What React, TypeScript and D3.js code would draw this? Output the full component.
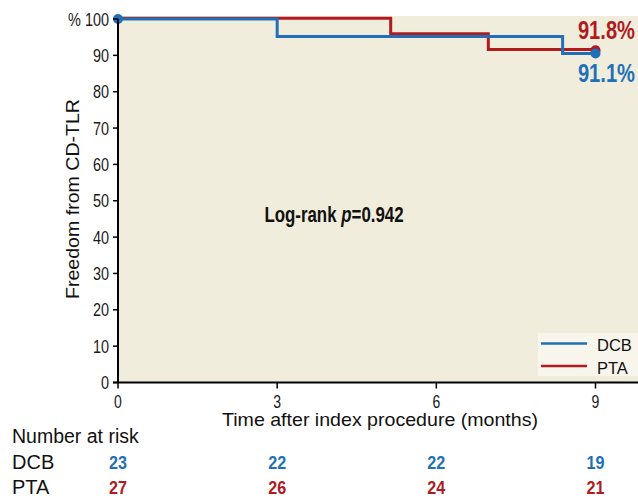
import React from "react";
import * as d3 from "d3";

const months = [0, 3, 6, 9];
const yTicks = [0, 10, 20, 30, 40, 50, 60, 70, 80, 90, 100];
const dcbTimes = [0, 3, 8.38, 9];
const dcbSurv = [100, 95.2, 90.5, 90.5];
const ptaTimes = [0, 5.14, 6.98, 9];
const ptaSurv = [100, 95.7, 91.4, 91.4];
const riskDCB = [23, 22, 22, 19];
const riskPTA = [27, 26, 24, 21];
const finalLabels = ["91.8%", "91.1%"];

const W = 638, H = 498;
const BLUE = "#1f70b8";
const RED = "#b01b1f";
const BG = "#f1eddc";
const SANS = "'Liberation Sans', Arial, sans-serif";

// condensed-looking text: Liberation Sans squeezed horizontally
function NT(props: any) {
  const { x, y, sx, anchor, children, ...rest } = props;
  return (
    <text transform={`translate(${x},${y}) scale(${sx},1)`} textAnchor={anchor} fontFamily={SANS} {...rest}>
      {children}
    </text>
  );
}

export default function App() {
  const x = d3.scaleLinear().domain([0, 9]).range([118, 595.5]);
  const y = d3.scaleLinear().domain([0, 100]).range([382.5, 19]);
  const line = d3.line<[number, number]>().x(d => x(d[0])).y(d => y(d[1])).curve(d3.curveStepAfter);
  const dcb = dcbTimes.map((t, i) => [t, dcbSurv[i]] as [number, number]);
  const pta = ptaTimes.map((t, i) => [t, ptaSurv[i]] as [number, number]);
  const x0 = x(0);
  const y0 = y(0);

  return (
    <svg width={W} height={H} style={{ position: "absolute", left: 0, top: 0 }}>
      <rect x={x0} y={16} width={W - x0} height={y0 - 16} fill={BG} />
      {/* legend box */}
      <rect x={538} y={333} width={100} height={43} fill="#f7f5ec" />
      <line x1={541} x2={587} y1={343.5} y2={343.5} stroke={BLUE} strokeWidth={2.5} />
      <line x1={541} x2={587} y1={366} y2={366} stroke={RED} strokeWidth={2.5} />
      <text x={597} y={351} fontFamily={SANS} fontSize={16.5} fill="#111">DCB</text>
      <text x={597} y={374} fontFamily={SANS} fontSize={16.5} fill="#111">PTA</text>

      {/* curves */}
      <path d={line(pta) || ""} fill="none" stroke={RED} strokeWidth={3} transform="translate(0,-0.8)" />
      <path d={line(dcb) || ""} fill="none" stroke={BLUE} strokeWidth={3} />
      <circle cx={x(9)} cy={y(ptaSurv[3])} r={5} fill={RED} />
      <circle cx={x(9)} cy={y(dcbSurv[3])} r={5} fill={BLUE} />
      <circle cx={x(0)} cy={y(100)} r={5} fill={BLUE} />

      {/* axes */}
      <line x1={x0} x2={x0} y1={19} y2={y0} stroke="#000" strokeWidth={2} />
      <line x1={x0 - 5} x2={W} y1={y0} y2={y0} stroke="#000" strokeWidth={2} />
      {yTicks.map(t => (
        <g key={t}>
          <line x1={x0 - 5} x2={x0} y1={y(t)} y2={y(t)} stroke="#000" strokeWidth={1.5} />
          <NT x={x0 - 9} y={y(t) + 6.5} sx={0.78} anchor="end" fontSize={18.5} fill="#1a1a1a">
            {t === 100 ? "% 100" : t}
          </NT>
        </g>
      ))}
      {months.map(m => (
        <g key={m}>
          <line x1={x(m)} x2={x(m)} y1={y0} y2={y0 + 6} stroke="#000" strokeWidth={1.5} />
          <NT x={x(m)} y={y0 + 25} sx={0.78} anchor="middle" fontSize={18} fill="#1a1a1a">{m}</NT>
        </g>
      ))}
      <text x={380} y={426} textAnchor="middle" fontFamily={SANS} fontSize={18.5} fill="#111"
        textLength={316} lengthAdjust="spacingAndGlyphs">
        Time after index procedure (months)
      </text>
      <text transform={`translate(79,199) rotate(-90)`} textAnchor="middle" fontFamily={SANS} fontSize={18.5} fill="#111"
        textLength={200} lengthAdjust="spacingAndGlyphs">
        Freedom from CD-TLR
      </text>

      <NT x={334} y={222} sx={0.75} anchor="middle" fontWeight="bold" fontSize={22.5} fill="#111">
        Log-rank <tspan fontStyle="italic">p</tspan>=0.942
      </NT>

      <NT x={635} y={39} sx={0.79} anchor="end" fontWeight="bold" fontSize={25.5} fill={RED}>{finalLabels[0]}</NT>
      <NT x={635} y={81.5} sx={0.79} anchor="end" fontWeight="bold" fontSize={25.5} fill={BLUE}>{finalLabels[1]}</NT>

      {/* number at risk */}
      <text x={12} y={443} fontFamily={SANS} fontSize={19.5} fill="#111">Number at risk</text>
      <text x={12} y={469} fontFamily={SANS} fontSize={20} fill="#111">DCB</text>
      <text x={12} y={494} fontFamily={SANS} fontSize={20} fill="#111">PTA</text>
      {months.map((m, i) => (
        <g key={"r" + m}>
          <NT x={x(m)} y={469} sx={0.85} anchor="middle" fontWeight="bold" fontSize={19} fill={BLUE}>{riskDCB[i]}</NT>
          <NT x={x(m)} y={494} sx={0.85} anchor="middle" fontWeight="bold" fontSize={19} fill={RED}>{riskPTA[i]}</NT>
        </g>
      ))}
    </svg>
  );
}
